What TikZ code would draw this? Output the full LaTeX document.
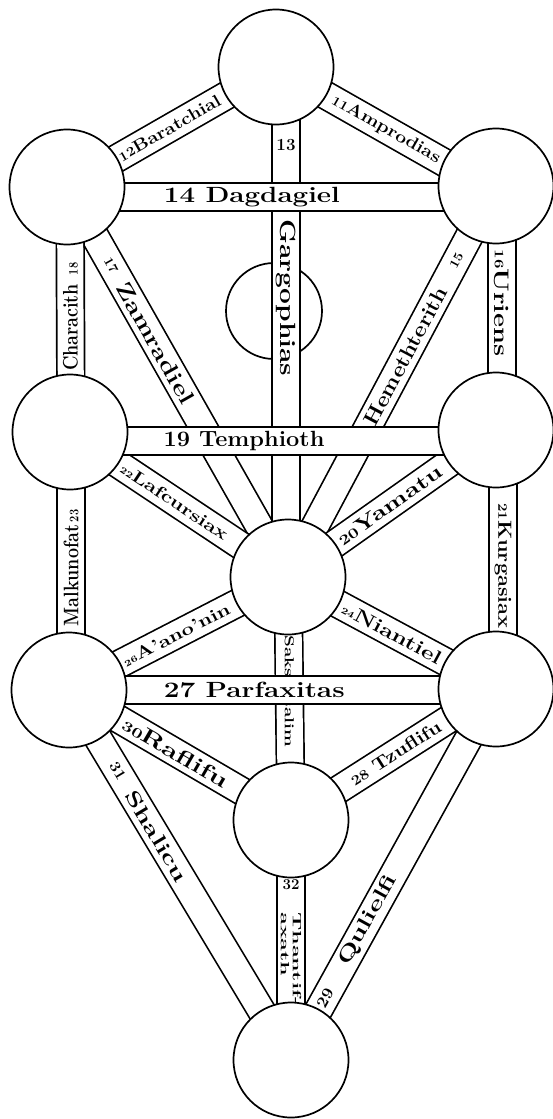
\documentclass[tikz,border=0pt]{standalone}
\usepackage{fontspec}
\usetikzlibrary{calc}
\newcommand\ws[2][1.3]{\scalebox{#1}[1]{#2}}
\newcommand\fs[1]{\fontsize{#1}{#1}\selectfont}
\begin{document}
\begin{tikzpicture}[x=1pt,y=-1pt,
  band/.style={line width=1.7pt, double=white, double distance=26pt},
  seph/.style={circle, draw, line width=1.7pt, fill=white, minimum size=115pt, inner sep=0pt},
  lab/.style={font=\fontsize{#1}{#1}\selectfont\bfseries, inner sep=0pt},
  lab/.default=16]
\useasboundingbox (0,0) rectangle (553,1119);
\fill[white] (0,0) rectangle (553,1119);
\coordinate (K) at (276,67);
\coordinate (Bi) at (67,187);
\coordinate (Ch) at (496,186);
\coordinate (Ge) at (70,432);
\coordinate (Ce) at (496,430);
\coordinate (Ti) at (288,577);
\coordinate (Ho) at (69,690);
\coordinate (Ne) at (496,689);
\coordinate (Ye) at (291,820);
\coordinate (Ma) at (291,1060);
\node[circle, draw, line width=1.7pt, minimum size=96pt] (Da) at (274,311) {};
% diagonal bands
\draw[band] (K) -- ($(Ch)+(0,6)$) node[lab=17, sloped, pos=.5] {\ws[1.15]{{\fs{13}11}Amprodias}};
\draw[band] (Bi) -- (K) node[lab=17, sloped, pos=.49] {\ws[1.15]{{\fs{13}12}Baratchial}};
\draw[band] (Ti) -- (Ch) node[lab=21, sloped, pos=.565] {\ws[1.1]{Hemethterith}} node[lab=13, sloped, pos=.81] {\ws[1.1]{15}};
\draw[band] (Bi) -- (Ti) node[lab=22, sloped, pos=.40] {\ws[1.25]{Zamradiel}} node[lab=13, sloped, pos=.2] {\ws[1.1]{17}};
\draw[band] (Ge) -- (Ti) node[lab=17, sloped, pos=.48] {\ws[1.3]{{\fs{9}22}Lafcursiax}};
\draw[band] (Ti) -- (Ce) node[lab=20, sloped, pos=.49] {\ws[1.34]{{\fs{14}20}Yamatu}};
\draw[band] (Ho) -- (Ti) node[lab=17, sloped, pos=.49] {\ws[1.29]{{\fs{9}26}A'ano'nin}};
\draw[band] (Ti) -- (Ne) node[lab=19, sloped, pos=.5] {\ws[1.3]{{\fs{9}24}Niantiel}};
\draw[band] (Ye) -- (Ne) node[lab=18, sloped, pos=.51] {\ws[1.17]{{\fs{14}28} Tzuflifu}};
\draw[band] (Ho) -- (Ye) node[lab=21, sloped, pos=.48] {\ws[1.4]{{\fs{14}30}Raflifu}};
\draw[band] (Ma) -- (Ne) node[lab=16, sloped, pos=.167] {\ws[1.1]{29}} node[lab=20, sloped, pos=.377] {\ws[1.42]{Qulielfi}};
\draw[band] (Ho) -- (Ma) node[lab=15, sloped, pos=.22] {\ws[1.1]{31}} node[lab=20, sloped, pos=.395] {\ws[1.45]{Shalicu}};
% vertical bands
\draw[band] ($(K)+(10,0)$) -- ($(Ti)+(-2,0)$) node[lab=17, pos=.153] {13} node[lab=22, pos=.453, rotate=-90] {\ws[1.28]{Gargophias}};
\draw[band] ($(Bi)+(3,0)$) -- ($(Ge)+(1,0)$) node[lab=21, pos=.53, rotate=90] {\ws[0.85]{Characith\enspace{\fs{13}18}}};
\draw[band] ($(Ch)+(6,0)$) -- ($(Ce)+(6,0)$) node[lab=21, pos=.48, rotate=-90] {\ws[1.3]{{\fs{13}16}Uriens}};
\draw[band] ($(Ce)+(7,0)$) -- ($(Ne)+(7,0)$) node[lab=19, pos=.525, rotate=-90] {\ws[1.15]{{\fs{13}21}Kurgasiax}};
\draw[band] ($(Ge)+(1,0)$) -- ($(Ho)+(2,0)$) node[lab=21, pos=.527, rotate=90] {\ws[0.85]{Malkunofat\,{\fs{13}23}}};
\draw[band] (Ti) -- (Ye) node[lab=13, pos=.47, rotate=-90] {\ws[1.45]{Saksaksalim}};
\draw[band] (Ye) -- (Ma) node[lab=15, pos=.27] {32} node[lab=12, pos=.58, rotate=-90, align=left] {\ws[1.95]{Thantif-}\\\ws[1.95]{axath}};
% horizontal bands
\draw[band] ($(Bi)+(0,10)$) -- ($(Ch)+(0,11)$) node[lab=22, pos=.224, anchor=west] {\ws[1.26]{14 Dagdagiel}};
\draw[band] ($(Ge)+(0,9)$) -- ($(Ce)+(0,11)$) node[lab=22, pos=.218, anchor=west] {\ws[1.07]{19 Temphioth}};
\draw[band] (Ho) -- ($(Ne)+(0,1)$) node[lab=22, pos=.22, anchor=west] {\ws[1.27]{27 Parfaxitas}};
% spheres
\foreach \n in {K,Bi,Ch,Ge,Ce,Ti,Ho,Ne,Ye,Ma} \node[seph] (s\n) at (\n) {};
\end{tikzpicture}
\end{document}
